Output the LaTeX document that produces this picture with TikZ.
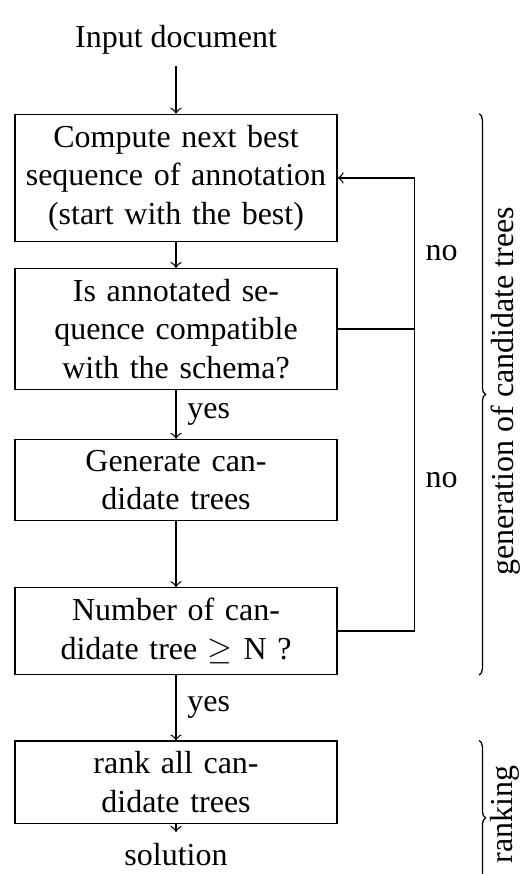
\documentclass[tikz,border=0pt]{standalone}
\usepackage{fontspec}
\setmainfont{Liberation Serif}
\usetikzlibrary{positioning,decorations.pathreplacing}

\begin{document}
\begin{tikzpicture}[>=to,
  stepbox/.style={draw,text width=94pt,align=center},
  lbl/.style={midway,right},
  grp/.style={decorate,decoration={brace,amplitude=2pt}},
  grptext/.style={midway,rotate=90,anchor=north,xshift=1pt}]
\useasboundingbox (0,0) rectangle (163.4pt,-273.1pt);
\node (inp) at (55pt,-12.5pt) {Input document};
\node[stepbox] (next) at (55pt,-55.6pt) {Compute next best\\sequence of annotation\\(start with the best)};
\node[stepbox] (compat) at (55pt,-102.8pt) {Is annotated se-\\quence compatible\\with the schema?};
\node[stepbox] (gen) at (55pt,-150pt) {Generate can-\\didate trees};
\node[stepbox] (numb) at (55pt,-197.2pt) {Number of can-\\didate tree $\geq$ N ?};
\node[stepbox] (rank) at (55pt,-244.4pt) {rank all can-\\didate trees};
\node[below=2.5pt of rank] (sol) {solution};
\draw[->] (inp) -- (next);
\draw[->] (next) -- (compat);
\draw[->] (compat) -- (gen) node[lbl]{yes};
\draw[->] (gen) -- (numb);
\draw[->] (numb) -- (rank) node[lbl]{yes};
\draw[->] (rank) -- (sol);
% loop back when the answer is no
\coordinate[right=23.9pt of numb.east] (back);
\coordinate (back2) at (back |- compat.east);
\coordinate (back1) at (back |- next.east);
\draw[->] (numb.east) -- (back) -- (back2) node[lbl]{no} -- (back1) node[lbl]{no} -- (next.east);
\draw (compat.east) -- (back2);
% braces
\coordinate (gtop) at ([xshift=44.2pt]next.north east);
\coordinate (gbot) at ([xshift=44.2pt]numb.south east);
\coordinate (rtop) at ([xshift=44.2pt]rank.north east);
\coordinate (rbot) at ([xshift=44.2pt,yshift=-48.4pt]rank.north east);
\draw[grp] (gtop) -- (gbot) node[grptext]{generation of candidate trees};
\draw[grp] (rtop) -- (rbot) node[grptext]{ranking};
\end{tikzpicture}
\end{document}
